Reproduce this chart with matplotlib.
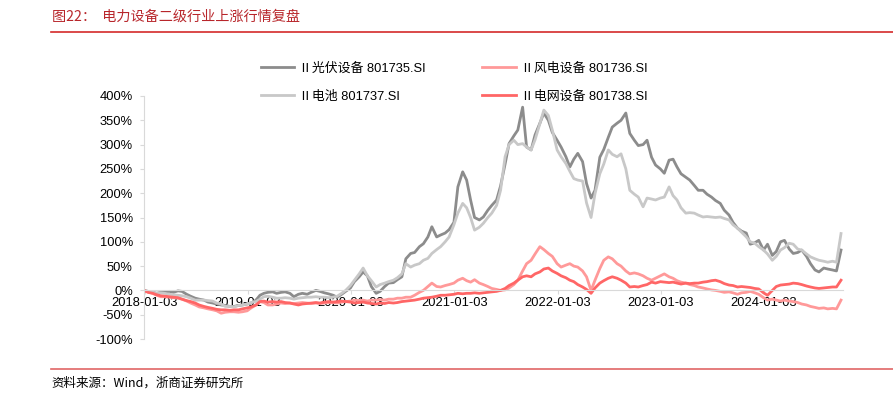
"""Sector rally review for power-equipment sub-industries (cumulative return since 2018-01-03)."""
import numpy as np
import pandas as pd
import matplotlib
matplotlib.use("Agg")
import matplotlib.pyplot as plt
import matplotlib.dates as mdates
from matplotlib.ticker import FuncFormatter


# === DATA (semi-monthly, in %) ===
dates = pd.date_range("2018-01-01", "2024-10-01", freq="SMS")

pv = [  # Ⅱ光伏设备 801735.SI
    0, -2, -4, -6, -4, -3, -2, -4, -1, -2, -8, -12, -16, -18, -20, -24, -26, -28, -30, -31,
    -33, -33, -31, -30, -28, -26, -20, -10, -6, -4, -3, -6, -4, -3, -6, -13, -8, -6, -8, -4,
    0, -2, -5, -7, -10, -14, -8, -2, 5, 18, 28, 38, 30, 8, -6, -2, 8, 15, 16, 22,
    28, 65, 76, 78, 90, 96, 110, 131, 110, 114, 118, 125, 140, 213, 244, 227, 186, 150, 145, 151,
    165, 175, 186, 215, 260, 302, 318, 330, 377, 295, 289, 320, 344, 365, 350, 325, 309, 295, 275, 254,
    270, 282, 265, 220, 190, 206, 274, 290, 315, 336, 344, 350, 365, 323, 309, 298, 300, 309, 274, 258,
    250, 241, 268, 270, 254, 240, 233, 227, 216, 206, 206, 198, 192, 185, 179, 165, 155, 140, 128, 122,
    118, 95, 98, 103, 83, 95, 72, 80, 100, 103, 85, 76, 78, 83, 70, 55, 42, 38, 46, 44,
    42, 40, 83,
]

wind = [  # Ⅱ风电设备 801736.SI
    0, -3, -6, -10, -13, -13, -14, -15, -16, -18, -22, -26, -30, -34, -36, -38, -40, -42, -47, -45,
    -44, -44, -45, -44, -42, -36, -30, -23, -25, -30, -30, -28, -26, -27, -26, -27, -26, -25, -26, -27,
    -26, -27, -26, -25, -25, -26, -24, -23, -22, -20, -21, -20, -22, -20, -20, -19, -20, -18, -18, -16,
    -16, -14, -14, -10, -4, 0, 8, 15, 8, 7, 10, 12, 15, 21, 25, 20, 17, 22, 15, 12,
    8, 4, 2, 0, 1, 5, 12, 21, 40, 55, 62, 75, 90, 84, 76, 70, 55, 48, 52, 55,
    50, 48, 40, 28, 0, 21, 45, 62, 69, 65, 55, 50, 40, 34, 36, 34, 30, 25, 21, 25,
    30, 34, 28, 25, 20, 17, 15, 12, 10, 7, 5, 3, 1, 0, -2, -4, -3, -5, -8, -5,
    -4, -2, -5, -8, -15, -20, -18, -20, -22, -20, -22, -23, -25, -28, -30, -33, -35, -37, -36, -38,
    -37, -38, -20,
]

battery = [  # Ⅱ电池 801737.SI
    0, -2, -4, -6, -5, -6, -8, -9, -10, -11, -13, -16, -20, -20, -20, -21, -22, -26, -28, -33,
    -33, -34, -31, -30, -28, -25, -23, -18, -13, -12, -14, -16, -16, -15, -16, -18, -16, -15, -14, -14,
    -13, -14, -14, -15, -14, -12, -6, 0, 10, 21, 34, 46, 30, 20, 7, 12, 15, 18, 21, 26,
    34, 55, 48, 52, 55, 62, 66, 76, 84, 90, 100, 110, 135, 159, 179, 170, 150, 124, 130, 138,
    150, 159, 175, 206, 275, 300, 309, 300, 302, 295, 289, 310, 343, 371, 360, 330, 289, 275, 261, 245,
    230, 227, 225, 180, 150, 199, 240, 260, 289, 280, 275, 281, 250, 206, 198, 192, 172, 190, 188, 186,
    190, 192, 213, 195, 186, 170, 159, 160, 159, 155, 151, 152, 151, 150, 151, 148, 145, 135, 128, 120,
    110, 100, 97, 90, 83, 75, 62, 70, 83, 88, 97, 95, 85, 83, 75, 69, 65, 62, 60, 58,
    60, 58, 117,
]

grid = [  # Ⅱ电网设备 801738.SI
    0, -4, -6, -9, -11, -12, -13, -14, -15, -18, -21, -23, -26, -30, -33, -35, -37, -39, -40, -40,
    -41, -40, -40, -38, -36, -34, -30, -23, -22, -24, -23, -24, -23, -25, -26, -28, -30, -28, -27, -26,
    -25, -26, -24, -23, -24, -23, -22, -23, -24, -26, -25, -24, -26, -27, -28, -26, -27, -25, -26, -25,
    -23, -22, -21, -20, -18, -16, -15, -14, -12, -10, -10, -9, -8, -6, -7, -6, -6, -5, -6, -5,
    -4, -3, -2, 0, 4, 10, 15, 21, 28, 30, 28, 34, 38, 44, 46, 40, 35, 30, 26, 21,
    18, 12, 7, 2, -6, 5, 15, 20, 25, 28, 25, 21, 15, 7, 8, 7, 10, 12, 17, 15,
    18, 17, 16, 17, 15, 13, 15, 14, 15, 15, 17, 18, 20, 21, 18, 14, 11, 10, 7, 8,
    7, 6, 4, 3, -5, -10, 0, 8, 11, 12, 13, 15, 14, 12, 9, 7, 5, 4, 5, 6,
    7, 7, 21,
]

labels = ["Ⅱ光伏设备 801735.SI", "Ⅱ风电设备 801736.SI", "Ⅱ电池 801737.SI", "Ⅱ电网设备 801738.SI"]
colors = ["#8c8c8c", "#ff9999", "#c8c8c8", "#ff6666"]
tick_dates = ["2018-01-03", "2019-01-03", "2020-01-03", "2021-01-03",
              "2022-01-03", "2023-01-03", "2024-01-03"]
y_ticks = [-100, -50, 0, 50, 100, 150, 200, 250, 300, 350, 400]

TITLE = "图22：  电力设备二级行业上涨行情复盘"
SOURCE = "资料来源：Wind，浙商证券研究所"


# === RENDERING ===
FONT = ["Liberation Sans", "Noto Sans CJK SC", "DejaVu Sans"]
plt.rcParams["font.family"] = FONT
plt.rcParams["font.size"] = 9.3

fig = plt.figure(figsize=(8.93, 3.98), dpi=100)
ax = fig.add_axes([144 / 893, 1 - 339 / 398, (843 - 144) / 893, (339 - 96) / 398])

lines = []
for series, label, color in zip([pv, wind, battery, grid], labels, colors):
    ln, = ax.plot(dates, series, color=color, lw=2.0, label=label)
    lines.append(ln)

ax.set_ylim(-100, 400)
ax.set_yticks(y_ticks)
ax.yaxis.set_major_formatter(FuncFormatter(lambda v, _: f"{int(v)}%"))
ax.set_xlim(pd.Timestamp("2018-01-01"), pd.Timestamp("2024-10-08"))
ax.set_xticks(pd.to_datetime(tick_dates))
ax.xaxis.set_major_formatter(mdates.DateFormatter("%Y-%m-%d"))

# x axis sits on the 0% line
ax.spines["bottom"].set_position(("data", 0))
for side in ["top", "right"]:
    ax.spines[side].set_visible(False)
for side in ["bottom", "left"]:
    ax.spines[side].set_color("#d9d9d9")
    ax.spines[side].set_linewidth(0.8)
ax.tick_params(axis="both", colors="#d9d9d9", labelcolor="black", length=3, width=0.8, labelsize=9.3)
ax.tick_params(axis="x", pad=2)
ax.tick_params(axis="y", pad=5)

# legend: row 1 -> 光伏, 风电 ; row 2 -> 电池, 电网
order = [0, 2, 1, 3]
fig.legend([lines[i] for i in order], [labels[i] for i in order],
           ncol=2, loc="center", bbox_to_anchor=(454 / 893, 1 - 82.5 / 398),
           frameon=False, handlelength=2.6, handletextpad=0.35,
           columnspacing=4.4, labelspacing=1.25, fontsize=9.3)

# header / footer
fig.text(52 / 893, 1 - 17 / 398, TITLE, color="#b8262b", fontsize=10.2,
         ha="left", va="center", family=["Noto Sans CJK SC"])
fig.add_artist(plt.Line2D([51 / 893, 1], [1 - 32 / 398] * 2, color="#d42a2a", lw=1.2))
fig.add_artist(plt.Line2D([51 / 893, 1], [1 - 369 / 398] * 2, color="#e06666", lw=1.2))
fig.text(51 / 893, 1 - 383 / 398, SOURCE, color="black", fontsize=9,
         ha="left", va="center", family=["Noto Sans CJK SC"])

fig.savefig("out.png", dpi=100)
